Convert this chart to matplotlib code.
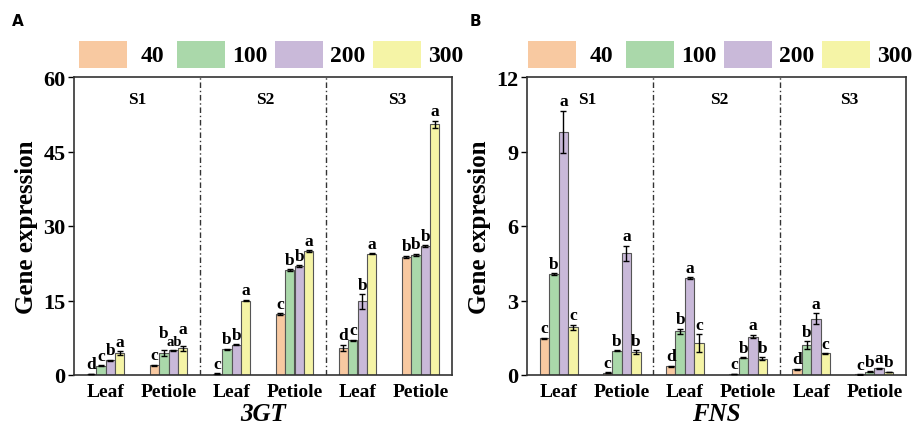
import matplotlib
matplotlib.use("Agg")
import matplotlib.pyplot as plt
from matplotlib.patches import Rectangle
import numpy as np

plt.rcParams['font.family'] = ['Liberation Serif', 'DejaVu Serif']

series = ['40', '100', '200', '300']
colors = ['#F8C9A1', '#AAD8AA', '#C9B9D9', '#F5F4A6']
categories = ['Leaf', 'Petiole', 'Leaf', 'Petiole', 'Leaf', 'Petiole']
stages = ['S1', 'S2', 'S3']

# 3GT values: rows = categories, columns = series
gt_vals = [[0.2, 1.9, 3.0, 4.4],
           [2.0, 4.5, 5.0, 5.4],
           [0.3, 5.2, 6.1, 15.0],
           [12.3, 21.1, 21.9, 24.9],
           [5.5, 7.0, 14.8, 24.4],
           [23.8, 24.2, 25.9, 50.5]]
gt_err = [[0.05, 0.1, 0.1, 0.4],
          [0.1, 0.6, 0.1, 0.5],
          [0.05, 0.1, 0.15, 0.2],
          [0.2, 0.2, 0.2, 0.2],
          [0.6, 0.1, 1.5, 0.1],
          [0.2, 0.2, 0.2, 0.7]]
gt_letters = [['d', 'c', 'b', 'a'],
              ['c', 'b', 'ab', 'a'],
              ['c', 'b', 'b', 'a'],
              ['c', 'b', 'b', 'a'],
              ['d', 'c', 'b', 'a'],
              ['b', 'b', 'b', 'a']]

# FNS values
fns_vals = [[1.48, 4.06, 9.8, 1.92],
            [0.1, 0.97, 4.9, 0.93],
            [0.36, 1.76, 3.9, 1.28],
            [0.05, 0.7, 1.55, 0.66],
            [0.23, 1.21, 2.27, 0.87],
            [0.03, 0.13, 0.28, 0.13]]
fns_err = [[0.03, 0.03, 0.85, 0.1],
           [0.02, 0.02, 0.3, 0.07],
           [0.02, 0.1, 0.05, 0.37],
           [0.01, 0.02, 0.07, 0.06],
           [0.02, 0.15, 0.23, 0.02],
           [0.01, 0.02, 0.02, 0.01]]
fns_letters = [['c', 'b', 'a', 'c'],
               ['c', 'b', 'a', 'b'],
               ['d', 'b', 'a', 'c'],
               ['c', 'b', 'a', 'b'],
               ['d', 'b', 'a', 'c'],
               ['c', 'b', 'a', 'b']]

W, H = 914, 435
fig = plt.figure(figsize=(W / 100, H / 100), dpi=100)
ax1 = fig.add_axes([74 / W, 1 - 376 / H, 378 / W, 298 / H])
ax2 = fig.add_axes([527 / W, 1 - 376 / H, 379 / W, 298 / H])

width = 0.15


def draw(ax, vals, errs, letters, ymax, step, title, s_y, s_x):
    vals = np.array(vals)
    errs = np.array(errs)
    x = np.arange(len(categories))
    for j in range(len(series)):
        xs = x + (j - 1.5) * width
        ax.bar(xs, vals[:, j], width, color=colors[j], edgecolor='#555555',
               linewidth=0.8, zorder=2)
        ax.errorbar(xs, vals[:, j], yerr=errs[:, j], fmt='none', ecolor='black',
                    elinewidth=1.0, capsize=2.5, capthick=1.0, zorder=3)
        for i in range(len(categories)):
            lab = letters[i][j]
            fs = 12.5 if len(lab) == 1 else 10.5
            # lift letters next to a two-letter label so they stagger
            near_long = any(len(letters[i][k]) > 1 for k in (j - 1, j + 1)
                            if 0 <= k < len(series))
            dy = 6 if (near_long and len(lab) == 1) else 1
            ax.annotate(lab, (xs[i], vals[i, j] + errs[i, j]),
                        xytext=(0.5 if len(lab) > 1 else 0, dy),
                        textcoords='offset points',
                        ha='center', va='bottom', fontsize=fs,
                        fontweight='bold')
    ax.set_xlim(-0.5, 5.5)
    ax.set_ylim(0, ymax)
    ticks = np.arange(0, ymax + 0.01, step)
    ax.set_yticks(ticks)
    ax.set_yticklabels([str(int(v)) for v in ticks], fontsize=16, fontweight='bold')
    ax.set_xticks(x)
    ax.set_xticklabels(categories, fontsize=14, fontweight='bold')
    ax.tick_params(axis='x', length=0, pad=6)
    ax.tick_params(axis='y', length=4, width=1, direction='out', pad=2)
    for sp in ax.spines.values():
        sp.set_linewidth(1.2)
        sp.set_color('#333333')
    for d in (1.5, 3.5):
        ax.axvline(d, color='#333333', linestyle=(0, (4, 2, 1, 2)), linewidth=1.0, zorder=1)
    for k, st in enumerate(stages):
        ax.text(s_x[k], s_y, st, ha='center', va='center', fontsize=12.5,
                fontweight='bold')
    ax.set_ylabel('Gene expression', fontsize=18, fontweight='bold', labelpad=4)
    ax.set_xlabel(title, fontsize=18, fontweight='bold', style='italic', labelpad=1)


def legend(x0):
    # fixed-pitch legend entries: patch then centred label
    pitch, pw, ph, ytop = 98, 48, 27, 42
    for j, lab in enumerate(series):
        px = x0 + j * pitch
        fig.patches.append(Rectangle((px / W, 1 - (ytop + ph) / H), pw / W, ph / H,
                                     transform=fig.transFigure, facecolor=colors[j],
                                     edgecolor='none'))
        fig.text((px + pw + (pitch - pw) / 2) / W, 1 - (ytop + ph / 2 + 1) / H, lab,
                 ha='center', va='center', fontsize=17, fontweight='bold')


draw(ax1, gt_vals, gt_err, gt_letters, 60, 15, '3GT', 55.5, [0.5, 2.53, 4.63])
draw(ax2, fns_vals, fns_err, fns_letters, 12, 3, 'FNS', 11.1, [0.45, 2.54, 4.6])
legend(79)
legend(528)

fig.text(12 / W, 1 - 22 / H, 'A', fontsize=11, fontweight='bold',
         family='DejaVu Sans', ha='left', va='center')
fig.text(470 / W, 1 - 22 / H, 'B', fontsize=11, fontweight='bold',
         family='DejaVu Sans', ha='left', va='center')

fig.savefig('out.png', dpi=100)
